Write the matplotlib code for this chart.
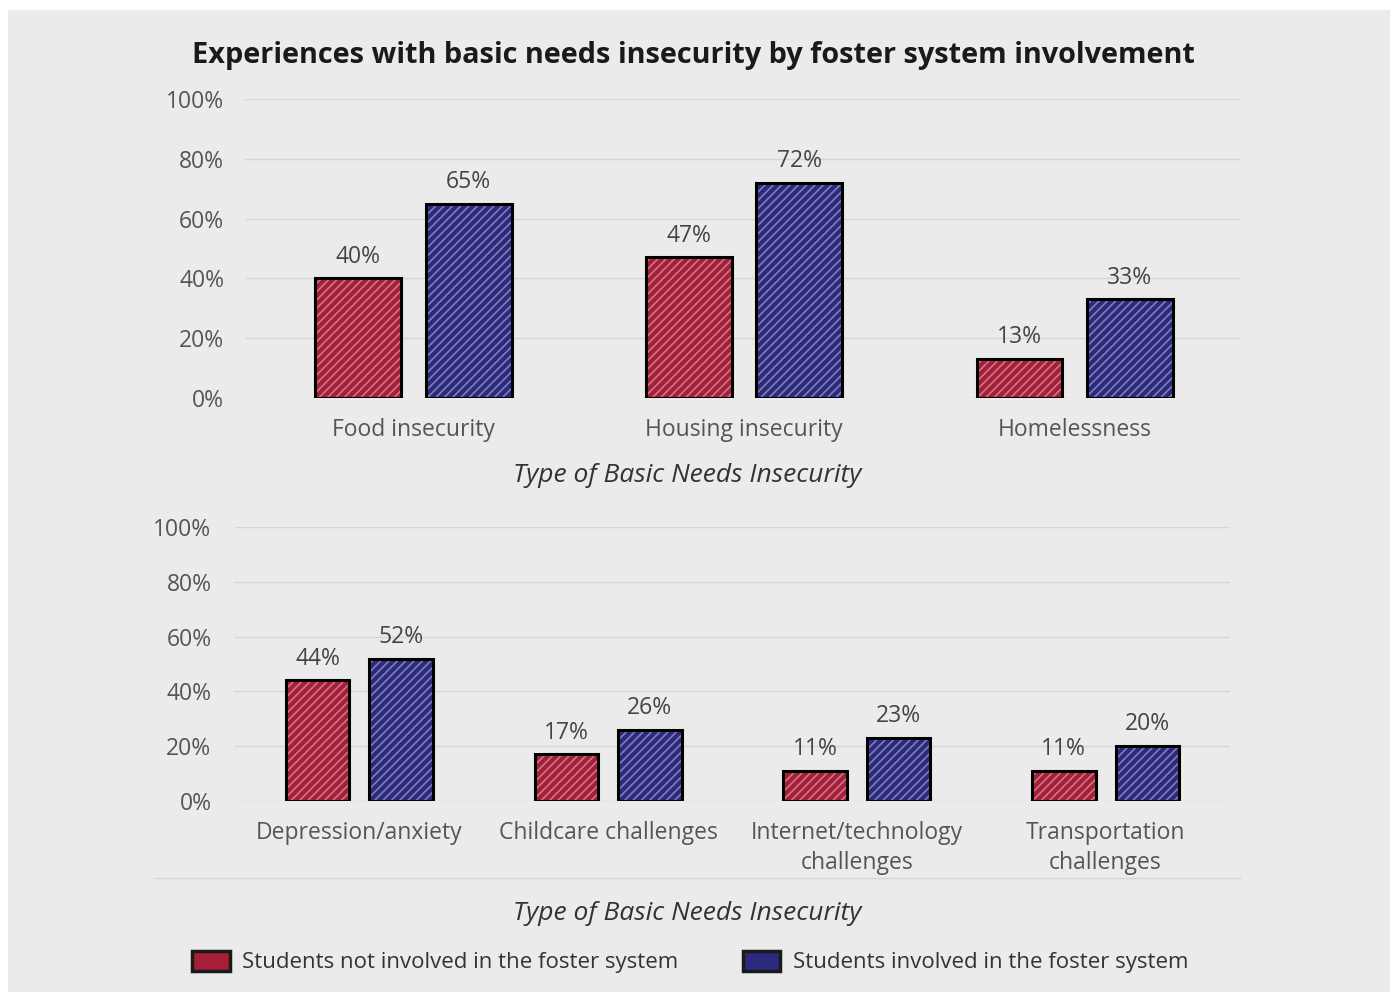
import matplotlib
matplotlib.use('Agg')
import matplotlib.pyplot as plt
from matplotlib.patches import Rectangle, Patch
from matplotlib.lines import Line2D
import numpy as np

# Datos
categorias_sup = ['Food insecurity', 'Housing insecurity', 'Homelessness']
no_foster_sup = [40, 47, 13]
foster_sup = [65, 72, 33]

categorias_inf = ['Depression/anxiety', 'Childcare challenges',
                  'Internet/technology\nchallenges', 'Transportation\nchallenges']
no_foster_inf = [44, 17, 11, 11]
foster_inf = [52, 26, 23, 20]

ticks_y = [0, 20, 40, 60, 80, 100]
etiquetas_y = ['0%', '20%', '40%', '60%', '80%', '100%']
serie_labels = ['Students not involved in the foster system',
                'Students involved in the foster system']
titulo = 'Experiences with basic needs insecurity by foster system involvement'
eje_x = 'Type of Basic Needs Insecurity'

ROJO = '#a61e38'
AZUL = '#2c2a7e'
GRIS_TXT = '#555555'
W, H = 1394, 994

plt.rcParams['font.family'] = ['Open Sans', 'DejaVu Sans']
plt.rcParams['hatch.linewidth'] = 1.2

fig = plt.figure(figsize=(W / 100, H / 100), dpi=100, facecolor='white')
fig.patches.append(Rectangle((8 / W, 2 / H), 1382 / W, 982 / H, transform=fig.transFigure,
                             facecolor='#ebebeb', edgecolor='none', zorder=-10))


def px_rect(left, right, y0, y100):
    return [left / W, 1 - y0 / H, (right - left) / W, (y0 - y100) / H]


def dibujar(ax, categorias, serie_a, serie_b, ancho, desp, pad_y, xlim):
    x = np.arange(len(categorias))
    for vals, col, sgn in [(serie_a, ROJO, -1), (serie_b, AZUL, 1)]:
        pos = x + sgn * desp
        ax.bar(pos, vals, ancho, color=col, edgecolor=(1, 1, 1, 0.4), linewidth=0,
               hatch='////', zorder=2)
        ax.bar(pos, vals, ancho, color='none', edgecolor='black', linewidth=2.2, zorder=3)
        for p, v in zip(pos, vals):
            ax.annotate(f'{v}%', (p, v), textcoords='offset points', xytext=(0, 7),
                        ha='center', va='bottom', fontsize=16.5, color='#444444')
    ax.set_ylim(0, 100)
    ax.set_xlim(*xlim)
    ax.set_yticks(ticks_y)
    ax.set_yticklabels(etiquetas_y)
    ax.set_xticks(x)
    ax.set_xticklabels(categorias, linespacing=1.3)
    ax.tick_params(axis='y', length=0, pad=pad_y, labelsize=16.5, labelcolor=GRIS_TXT)
    ax.tick_params(axis='x', length=0, pad=14.5, labelsize=16.5, labelcolor=GRIS_TXT)
    ax.grid(axis='y', color='#d6d6d6', linewidth=1, zorder=0)
    ax.set_axisbelow(True)
    ax.set_facecolor('none')
    for s in ax.spines.values():
        s.set_visible(False)


ax1 = fig.add_axes(px_rect(245, 1240, 398, 99))
dibujar(ax1, categorias_sup, no_foster_sup, foster_sup, 0.26, 0.167, 15, (-0.51, 2.50))

ax2 = fig.add_axes(px_rect(235, 1230, 801, 527))
dibujar(ax2, categorias_inf, no_foster_inf, foster_inf, 0.255, 0.168, 17, (-0.50, 3.50))

fig.text(693 / W, 1 - 55 / H, titulo, ha='center', va='center',
         fontsize=20.8, fontweight='bold', color='#1a1a1a')
fig.text(687 / W, 1 - 476 / H, eje_x, ha='center', va='center',
         fontsize=19, style='italic', color='#333333')
fig.text(687 / W, 1 - 914 / H, eje_x, ha='center', va='center',
         fontsize=19, style='italic', color='#333333')

# linea tenue bajo las etiquetas inferiores
fig.lines.append(Line2D([156 / W, 1240 / W], [1 - 878 / H, 1 - 878 / H],
                        transform=fig.transFigure, color='#d6d6d6', linewidth=1))

handles = [Patch(facecolor=ROJO, edgecolor='#1a1a1a', linewidth=2.5),
           Patch(facecolor=AZUL, edgecolor='#1a1a1a', linewidth=2.5)]
fig.legend(handles, serie_labels, loc='center', ncol=2,
           bbox_to_anchor=(690 / W, 1 - 962 / H), frameon=False, fontsize=16,
           labelcolor='#333333', handlelength=1.7, handleheight=1.0,
           handletextpad=0.55, columnspacing=2.9)

fig.savefig('out.png', dpi=100, facecolor='white')
